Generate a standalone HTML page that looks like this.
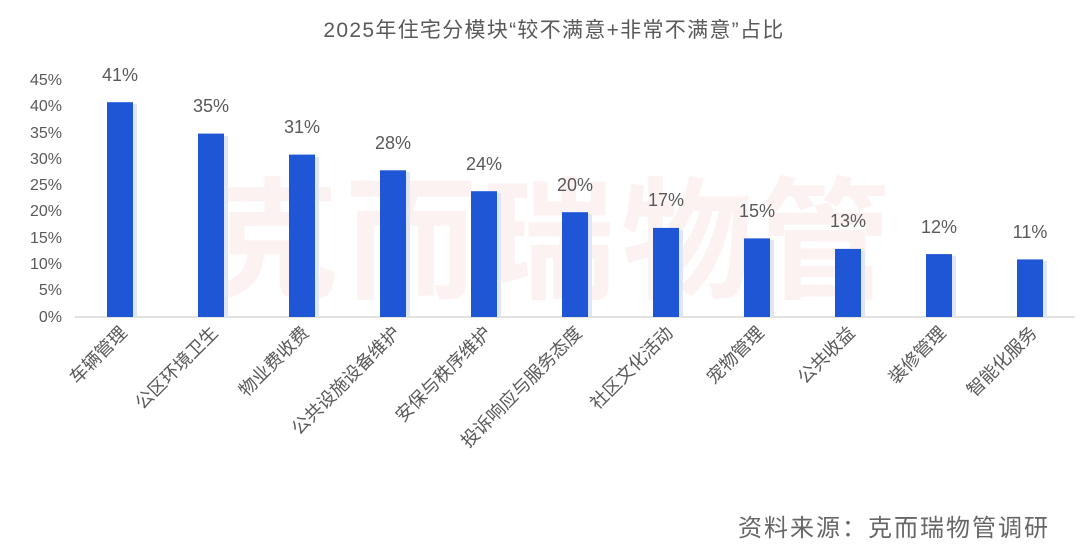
<!DOCTYPE html>
<html><head><meta charset="utf-8"><style>
html,body{margin:0;padding:0;background:#fff;}
svg{display:block;font-family:"Liberation Sans","Noto Sans CJK SC",sans-serif;}
</style></head><body>
<svg width="1080" height="549" viewBox="0 0 1080 549" xmlns="http://www.w3.org/2000/svg">
<text x="554" y="37" text-anchor="middle" font-size="21" letter-spacing="1.3" fill="#595959">2025年住宅分模块“较不满意+非常不满意”占比</text>
<text x="552" y="288" text-anchor="middle" font-size="132" font-weight="bold" fill="#fdf2f2" letter-spacing="6">克而瑞物管</text>
<g font-size="16" fill="#595959" text-anchor="end">
<text x="62" y="85">45%</text><text x="62" y="111">40%</text><text x="62" y="138">35%</text><text x="62" y="164">30%</text><text x="62" y="190">25%</text><text x="62" y="216">20%</text><text x="62" y="243">15%</text><text x="62" y="269">10%</text><text x="62" y="295">5%</text><text x="62" y="322">0%</text>
</g>
<line x1="75" y1="317" x2="1075" y2="317" stroke="#d9d9d9" stroke-width="1.5"/>
<g fill="#dfe6f7">
<rect x="109" y="104" width="28" height="213"/>
<rect x="200" y="136" width="28" height="181"/>
<rect x="291" y="157" width="28" height="160"/>
<rect x="382" y="172" width="28" height="145"/>
<rect x="473" y="193" width="28" height="124"/>
<rect x="564" y="214" width="28" height="103"/>
<rect x="655" y="230" width="28" height="87"/>
<rect x="746" y="240" width="28" height="77"/>
<rect x="837" y="251" width="28" height="66"/>
<rect x="928" y="256" width="28" height="61"/>
<rect x="1019" y="261" width="28" height="56"/>
</g>
<g fill="#1e56d6">
<rect x="107" y="102.2" width="26" height="214.8"/>
<rect x="198" y="133.6" width="26" height="183.4"/>
<rect x="289" y="154.6" width="26" height="162.4"/>
<rect x="380" y="170.3" width="26" height="146.7"/>
<rect x="471" y="191.2" width="26" height="125.8"/>
<rect x="562" y="212.2" width="26" height="104.8"/>
<rect x="653" y="227.9" width="26" height="89.1"/>
<rect x="744" y="238.4" width="26" height="78.6"/>
<rect x="835" y="248.9" width="26" height="68.1"/>
<rect x="926" y="254.1" width="26" height="62.9"/>
<rect x="1017" y="259.4" width="26" height="57.6"/>
</g>
<g font-size="18" fill="#595959" text-anchor="middle">
<text x="120" y="81">41%</text>
<text x="211" y="112">35%</text>
<text x="302" y="133">31%</text>
<text x="393" y="149">28%</text>
<text x="484" y="170">24%</text>
<text x="575" y="191">20%</text>
<text x="666" y="206">17%</text>
<text x="757" y="217">15%</text>
<text x="848" y="227">13%</text>
<text x="939" y="233">12%</text>
<text x="1030" y="238">11%</text>
</g>
<g font-size="18" fill="#595959" text-anchor="end">
<text transform="translate(128,334) rotate(-45)">车辆管理</text>
<text transform="translate(219,334) rotate(-45)">公区环境卫生</text>
<text transform="translate(310,334) rotate(-45)">物业费收费</text>
<text transform="translate(401,334) rotate(-45)">公共设施设备维护</text>
<text transform="translate(492,334) rotate(-45)">安保与秩序维护</text>
<text transform="translate(583,334) rotate(-45)">投诉响应与服务态度</text>
<text transform="translate(674,334) rotate(-45)">社区文化活动</text>
<text transform="translate(765,334) rotate(-45)">宠物管理</text>
<text transform="translate(856,334) rotate(-45)">公共收益</text>
<text transform="translate(947,334) rotate(-45)">装修管理</text>
<text transform="translate(1038,334) rotate(-45)">智能化服务</text>
</g>
<text x="1050" y="536" text-anchor="end" font-size="24" letter-spacing="2" fill="#666">资料来源：克而瑞物管调研</text>
</svg>
</body></html>
